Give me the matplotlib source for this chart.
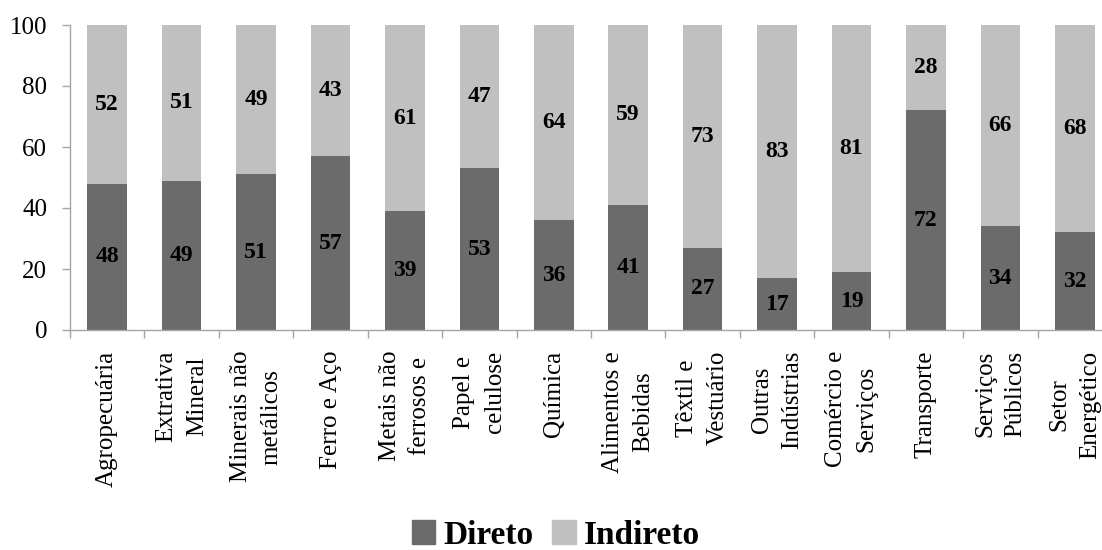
import matplotlib
matplotlib.use("Agg")
import matplotlib.pyplot as plt
from matplotlib.patches import Patch
import numpy as np

categories = ["Agropecuária", "Extrativa\nMineral", "Minerais não\nmetálicos",
              "Ferro e Aço", "Metais não\nferrosos e", "Papel e\ncelulose",
              "Química", "Alimentos e\nBebidas", "Têxtil e\nVestuário",
              "Outras\nIndústrias", "Comércio e\nServiços", "Transporte",
              "Serviços\nPúblicos", "Setor\nEnergético"]
direto = [48, 49, 51, 57, 39, 53, 36, 41, 27, 17, 19, 72, 34, 32]
indireto = [52, 51, 49, 43, 61, 47, 64, 59, 73, 83, 81, 28, 66, 68]
yticks = [0, 20, 40, 60, 80, 100]

plt.rcParams['font.family'] = ['Liberation Serif', 'DejaVu Serif']

c_dir = "#6b6b6b"
c_ind = "#c0c0c0"
axis_c = "#a6a6a6"

fig = plt.figure(figsize=(11.02, 5.5), dpi=100)
ax = fig.add_axes([70/1102, 1 - 330/550, (1112 - 70)/1102, (330 - 25)/550])

x = np.arange(len(categories))
w = 0.53
ax.bar(x, direto, width=w, color=c_dir, label="Direto")
ax.bar(x, indireto, width=w, bottom=direto, color=c_ind, label="Indireto")

for xi, d, i in zip(x, direto, indireto):
    ax.text(xi, d / 2, str(d), ha='center', va='center', fontsize=17, fontweight='bold')
    ax.text(xi, d + i / 2, str(i), ha='center', va='center', fontsize=17, fontweight='bold')

ax.set_xlim(-0.5, len(categories) - 0.5)
ax.set_ylim(0, 100)
ax.set_yticks(yticks)
ax.set_yticklabels([str(v) for v in yticks], fontsize=18)
ax.set_xticks(x)
ax.set_xticklabels(categories, rotation=90, fontsize=18, ha='center', va='top',
                   multialignment='center', linespacing=1.5)
ax.set_xticks(np.arange(len(categories) + 1) - 0.5, minor=True)
ax.tick_params(axis='x', which='major', length=0, pad=15)
ax.tick_params(axis='x', which='minor', length=6, color=axis_c, width=1)
ax.tick_params(axis='y', length=6, color=axis_c, width=1, pad=10.5)

for s in ['top', 'right']:
    ax.spines[s].set_visible(False)
for s in ['left', 'bottom']:
    ax.spines[s].set_color(axis_c)
    ax.spines[s].set_linewidth(1)

handles = [Patch(color=c_dir), Patch(color=c_ind)]
fig.legend(handles, ["Direto", "Indireto"], loc='center', bbox_to_anchor=(556/1102, 1 - 535/550),
           ncol=2, frameon=False, prop={'size': 24, 'weight': 'bold'},
           handlelength=0.7, handleheight=0.7, handletextpad=0.25, columnspacing=0.55,
           borderpad=0)

fig.savefig("out.png", dpi=100)
